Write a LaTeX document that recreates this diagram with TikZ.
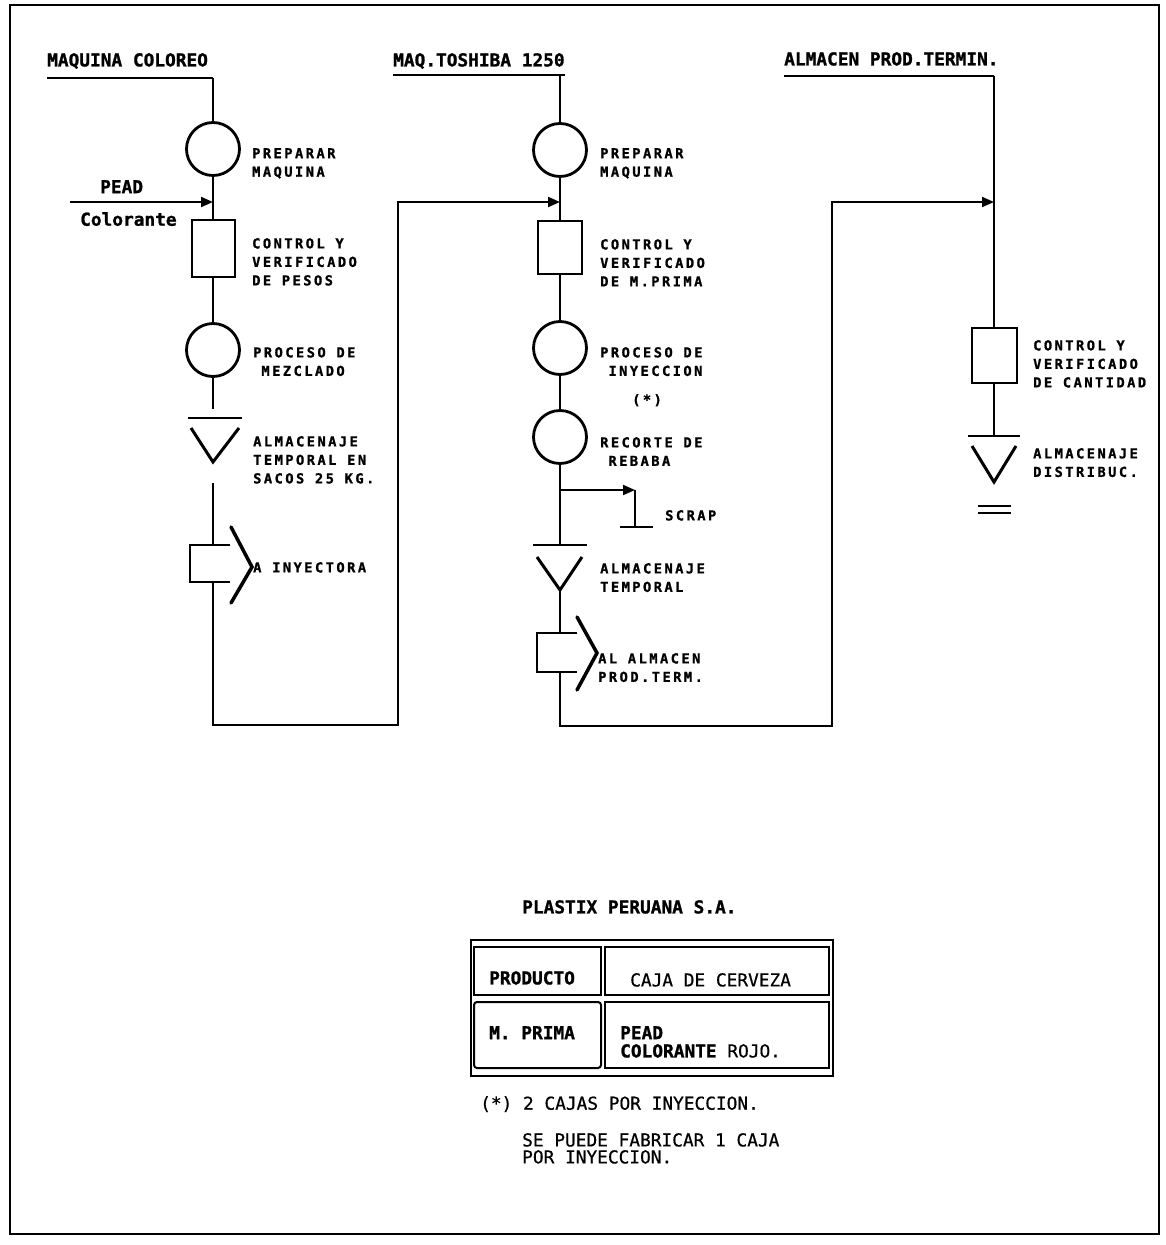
\documentclass[tikz,border=0pt]{standalone}
\usepackage{fontspec}
\usetikzlibrary{arrows.meta}
\newfontfamily\lblfont[LetterSpace=18,BoldFeatures={FakeBold=1.2}]{DejaVu Sans Mono}
\newfontfamily\hdrfont[BoldFeatures={FakeBold=1.2}]{DejaVu Sans Mono}
\newfontfamily\notefont[FakeBold=0.6]{DejaVu Sans Mono}
\begin{document}
\begin{tikzpicture}[x=1pt,y=-1pt,line join=miter,
  line/.style={line width=2pt},
  op/.style={circle,draw,line width=2.8pt,minimum size=53pt,inner sep=0pt},
  insp/.style={rectangle,draw,line width=2pt,inner sep=0pt},
  cell/.style={rectangle,draw,line width=2pt,inner sep=0pt},
  lbl/.style={anchor=north west,inner sep=0pt,align=left,font={\lblfont\bfseries\fontsize{13.7}{18.5}\selectfont}},
  hdr/.style={anchor=north west,inner sep=0pt,align=left,font={\hdrfont\bfseries\fontsize{17.8}{17.5}\selectfont}},
  note/.style={anchor=north west,inner sep=0pt,align=left,font={\notefont\fontsize{17.8}{17}\selectfont}},
  arr/.style={line width=2pt,-{Triangle[length=12pt,width=10pt]}},
  sym/.style={line width=3pt},
  bar/.style={line width=2.6pt}
]
\useasboundingbox (0,0) rectangle (1165,1245);
\draw[line width=1.5pt] (10,5) rectangle (1159,1234);

% ---------------- Column 1 : MAQUINA COLOREO ----------------
\node[hdr] (h1t) at (47,53) {MAQUINA COLOREO};
\coordinate (h1a) at (47,78);
\coordinate (h1b) at (213,78);
\draw[bar] (h1a) -- (h1b);
\node[op] (c1) at (213,149) {};
\draw[line] (h1b) -- (c1);
\node[insp,minimum width=43pt,minimum height=57pt] (b1) at (213,248) {};
\draw[line] (c1) -- (b1);
\coordinate (j1) at (213,202);
\coordinate (pead) at (70,202);
\draw[arr] (pead) -- (j1);
\node[hdr] (peadt) at (100,180) {PEAD};
\node[hdr] (colt) at (80,212) {Colorante};
\node[op] (c2) at (213,350) {};
\draw[line] (b1) -- (c2);
\coordinate (s1e) at (213,409);
\draw[line] (c2) -- (s1e);
\coordinate (s1l) at (188,418);
\coordinate (s1r) at (242,418);
\draw[bar] (s1l) -- (s1r);
\draw[sym] (191,428) -- (213,462) -- (239,428);
\coordinate (s1b) at (213,483);
\coordinate (t1t) at (213,545);
\coordinate (t1b) at (213,582);
\draw[line] (s1b) -- (t1t);
\draw[line width=2.5pt] (230,545) -- (190,545) -- (190,582) -- (230,582);
\draw[line width=3.5pt,line cap=round] (231,527) -- (252,567) -- (231,603);
\coordinate (r1b) at (398,725);
\coordinate (j2) at (560,202);
\draw[arr] (t1b) |- (r1b) |- (j2);

\node[lbl] (l1) at (252,148) {PREPARAR\\MAQUINA};
\node[lbl] (l2) at (252,238) {CONTROL Y\\VERIFICADO\\DE PESOS};
\node[lbl] (l3) at (253,347) {PROCESO DE\\\phantom{M}MEZCLADO};
\node[lbl] (l4) at (253,436) {ALMACENAJE\\TEMPORAL EN\\SACOS 25 KG.};
\node[lbl] (l5) at (253,562) {A INYECTORA};

% ---------------- Column 2 : MAQ.TOSHIBA 1250 ----------------
\node[hdr] (h2t) at (393,53) {MAQ.TOSHIBA 1250};
\coordinate (h2a) at (393,75);
\coordinate (h2c) at (565,75);
\coordinate (h2b) at (560,75);
\draw[bar] (h2a) -- (h2c);
\node[op] (c3) at (560,150) {};
\draw[line] (h2b) -- (c3);
\node[insp,minimum width=44pt,minimum height=53pt] (b2) at (560,247) {};
\draw[line] (c3) -- (b2);
\node[op] (c4) at (560,348) {};
\draw[line] (b2) -- (c4);
\node[op] (c5) at (560,437) {};
\draw[line] (c4) -- (c5);
\coordinate (s2t) at (560,545);
\draw[line] (c5) -- (s2t);
\coordinate (k) at (560,490);
\coordinate (sc1) at (635,490);
\coordinate (sc2) at (635,527);
\draw[arr] (k) -- (sc1);
\draw[line] (sc1) -- (sc2);
\draw[line width=2.5pt] (620,527) -- (653,527);
\draw[bar] (533,545) -- (587,545);
\draw[sym] (537,557) -- (560,590) -- (582,557);
\coordinate (s2b) at (560,590);
\coordinate (t2t) at (560,633);
\coordinate (t2b) at (560,672);
\draw[line] (s2b) -- (t2t);
\draw[line width=2.5pt] (577,633) -- (537,633) -- (537,672) -- (577,672);
\draw[line width=3.5pt,line cap=round] (577,617) -- (597,653) -- (577,690);
\coordinate (r2b) at (832,726);
\coordinate (j3) at (994,202);
\draw[arr] (t2b) |- (r2b) |- (j3);

\node[lbl] (m1) at (600,148) {PREPARAR\\MAQUINA};
\node[lbl] (m2) at (600,239) {CONTROL Y\\VERIFICADO\\DE M.PRIMA};
\node[lbl] (m3) at (600,347) {PROCESO DE\\\phantom{I}INYECCION};
\node[lbl] (m4) at (632,394) {(*)};
\node[lbl] (m5) at (600,437) {RECORTE DE\\\phantom{R}REBABA};
\node[lbl] (m6) at (665,510) {SCRAP};
\node[lbl] (m7) at (600,563) {ALMACENAJE\\TEMPORAL};
\node[lbl] (m8) at (598,653) {AL ALMACEN\\PROD.TERM.};

% ---------------- Column 3 : ALMACEN PROD.TERMIN. ----------------
\node[hdr] (h3t) at (784,52) {ALMACEN PROD.TERMIN.};
\coordinate (h3a) at (784,76);
\coordinate (h3b) at (994,76);
\draw[bar] (h3a) -- (h3b);
\node[insp,minimum width=45pt,minimum height=55pt] (b3) at (994,355) {};
\draw[line] (h3b) -- (b3);
\coordinate (s3t) at (994,436);
\draw[line] (b3) -- (s3t);
\draw[bar] (968,436) -- (1020,436);
\draw[sym] (972,446) -- (994,482) -- (1016,446);
\draw[line width=2.5pt] (978,506) -- (1011,506);
\draw[line width=2.5pt] (978,513) -- (1011,513);
\node[lbl] (n1) at (1033,340) {CONTROL Y\\VERIFICADO\\DE CANTIDAD};
\node[lbl] (n2) at (1033,448) {ALMACENAJE\\DISTRIBUC.};

% ---------------- Bottom block ----------------
\node[hdr] (title) at (522,900) {PLASTIX PERUANA S.A.};
\draw[line width=2pt] (471,940) rectangle (833,1076);
\node[cell,minimum width=127pt,minimum height=48pt] (p1) at (537.5,971) {};
\node[cell,minimum width=224pt,minimum height=48pt] (p2) at (717,971) {};
\node[cell,rounded corners=3pt,minimum width=127pt,minimum height=66pt] (q1) at (537.5,1035) {};
\node[cell,minimum width=224pt,minimum height=66pt] (q2) at (717,1035) {};
\node[hdr] (pt) at (489,971) {PRODUCTO};
\node[note] (ct) at (630,973) {CAJA DE CERVEZA};
\node[hdr] (mt) at (489,1026) {M. PRIMA};
\node[hdr] (pd) at (620,1026) {PEAD};
\node[note] (cr) at (620,1044) {{\hdrfont\bfseries COLORANTE} ROJO.};
\node[note] (n3) at (480,1096) {(*) 2 CAJAS POR INYECCION.};
\node[note] (n4) at (522,1133) {SE PUEDE FABRICAR 1 CAJA\\POR INYECCION.};
\end{tikzpicture}
\end{document}
